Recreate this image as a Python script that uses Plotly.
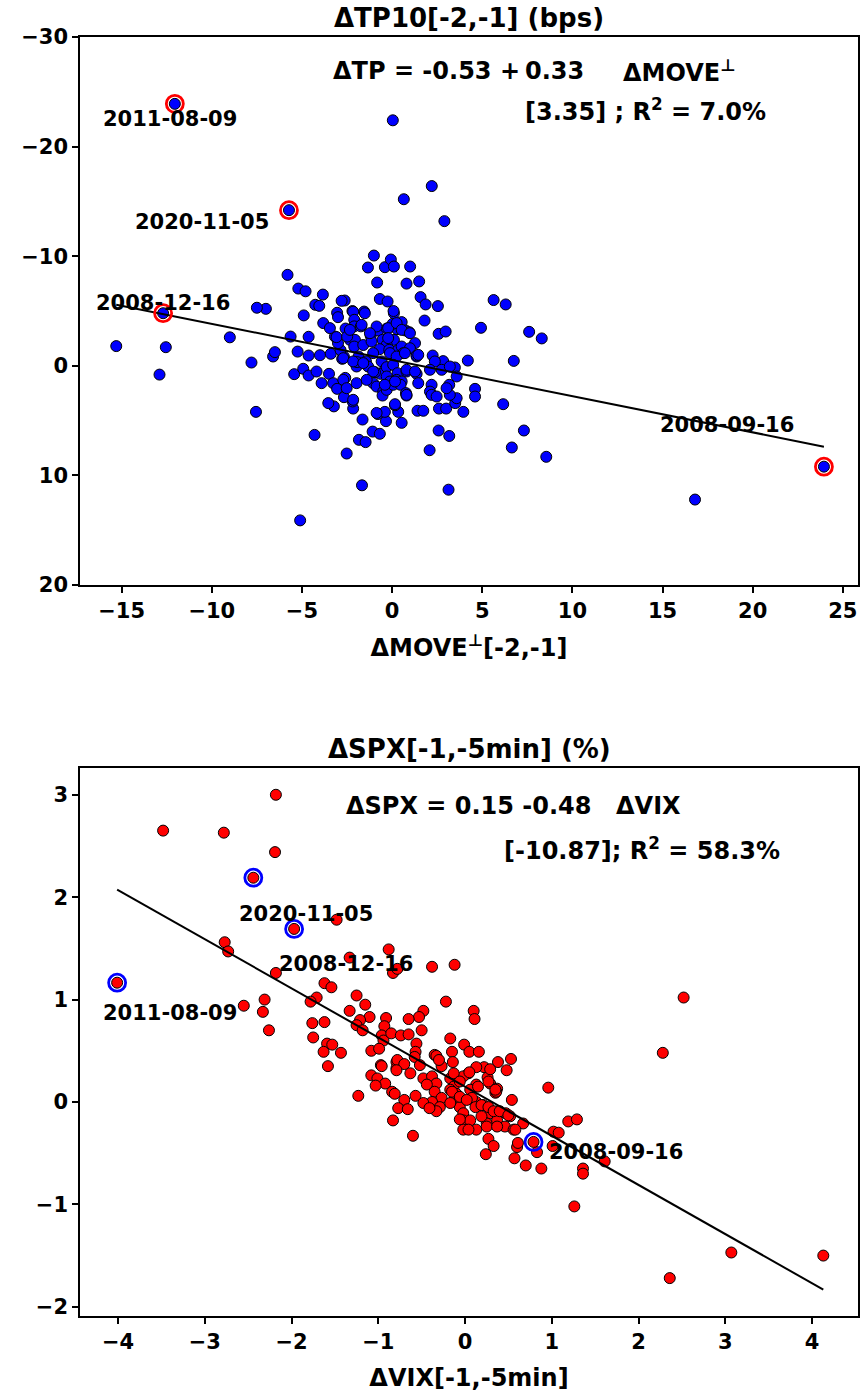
import plotly.graph_objects as go

# ---------------- data: top panel (ΔMOVE⊥ vs ΔTP10) ----------------
top_x = [0.04, 2.2, 0.65, 2.9, -15.3, -12.55, -12.9, -9.0, -7.8, -7.55, -7.0, -7.5, -5.8, -6.6, -6.5,
         -4.3, -5.1, -2.52, -1.67, 3.13, 2.08, 2.58, 3.17, 6.64, 7.31, 6.16, 3.95, -1.84, -1.47, -1.08,
         -0.68, -1.64, 0.53, -0.34, -0.79, -0.4, 0.34, 0.16, 1.41, 1.73, 2.6, 3.0, 3.5, -3.23, -3.54,
         -2.16, -2.19, 4.6, 4.6, 16.8, 5.63, 6.3, 7.6, 8.3, 6.75, 8.55, 4.93, 4.2, -1.01, -1.34,
         -0.4, -0.07, 0.1, 1.0, -0.83, 0.8, 1.5, -5.2, -4.8, -3.84, -4.26, -4.04, -4.9, -2.63, -2.8,
         -2.2, -1.55, -3.05, -0.68, -0.25, 0.1, 1.58, 1.86, 2.54, 1.8, 2.58, 2.97, -5.63, -4.63, -5.24,
         -4.63, -4.0, -3.4, -5.43, -4.93, -4.63, -4.19, -3.91, -3.5, -3.27, -3.05, -2.6, -2.67, -1.97, -2.77,
         -2.67, -2.86, -3.0, -3.17, -3.08, -3.0, -2.16, -2.1, -2.1, -1.73, -2.58, -2.34, -2.06, -2.1, -1.6,
         -1.86, -1.97, -1.94, -1.19, -0.77, -0.3, 0.27, 0.03, 0.53, 0.08, 0.75, 0.95, 1.27, 0.1, -0.53,
         -0.3, -0.69, -0.16, 0.34, 0.53, 0.62, 0.99, 1.36, -0.58, -0.4, -0.64, -0.12, 0.25, -0.3, 0.06,
         0.3, 0.8, -0.3, -0.12, 0.25, 0.53, -0.95, -1.05, -0.86, -0.49, -0.53, -0.3, 0.06, 0.47, 0.77,
         1.36, 1.45, 1.36, 2.25, 2.83, 2.37, 2.75, 2.1, 2.19, 3.48, 3.58, 3.17, 3.58, 3.2, 2.1,
         2.19, 2.47, 0.8, 0.16, -0.86, -3.82, -3.45, -2.49, -2.34, -1.14, -1.45, -1.33, -1.51, -1.69, -0.86,
         -0.22, 0.25, 0.53, -1.23, -0.22, 0.99, -2.71, -2.16, -1.6, -1.05, 0.71, -1.05, 0.8, 1.27, 1.45,
         3.2, 3.02, -1.41, -0.4, 0.16, 0.8, -2.71, -2.52, -2.16]
top_y = [-22.4, -16.4, -15.2, -13.2, -1.8, -1.7, 0.8, -2.6, -0.3, 4.2, -5.2, -5.3, -8.3, -0.85, -1.25,
         6.3, 14.1, 8.0, 10.9, 11.3, 7.7, 5.9, 6.4, 7.45, 5.9, 3.5, 4.2, 6.75, 6.96, 6.0,
         6.2, 4.9, 5.2, 5.05, 4.4, 4.2, 4.2, 3.6, 4.1, 4.1, 3.9, 3.9, 3.4, 3.7, 3.4,
         3.9, 3.25, 2.1, 2.8, 12.2, -6.0, -5.6, -3.1, -2.5, -0.45, 8.3, -3.47, -0.48, -10.06, -8.97,
         -9.0, -9.7, -9.06, -9.06, -7.6, -7.5, -7.7, -7.05, -6.8, -6.5, -5.57, -5.47, -4.6, -5.96, -5.93,
         -5.0, -4.95, -4.84, -6.1, -5.87, -4.8, -6.27, -5.6, -5.45, -4.13, -2.92, -3.13, -2.67, -2.65, -1.3,
         -0.94, -0.97, -1.1, 0.76, 0.27, 0.88, 0.52, 1.58, 0.73, 1.58, 2.1, 1.1, 2.86, 1.58, -0.64,
         -0.82, -1.43, -2.07, -2.67, -2.62, -4.44, -4.93, -4.2, -3.6, -3.6, -3.4, -2.37, -2.37, -1.76, -1.9,
         -0.85, 0.06, -0.34, -2.74, -3.22, -3.4, -3.35, -3.83, -3.99, -5.0, -3.22, -3.07, -2.07, -2.37, -2.37,
         -1.92, -1.52, -1.46, -1.46, -1.76, -1.16, -1.61, -0.85, -0.4, 0.36, 0.73, -1.16, -0.85, 0.12, -0.09,
         0.67, 0.52, 0.97, 1.43, 1.28, 1.43, 0.58, 1.58, 1.89, 2.35, 2.71, 2.19, 1.73, 1.73, 2.49,
         0.73, 1.58, -0.94, -0.94, -0.43, -0.4, 0.36, 0.36, 1.73, 0.15, 0.97, 1.73, 2.95, 2.65, 2.35,
         2.65, 2.8, 2.71, 3.5, 4.3, -3.9, -3.44, -2.67, -3.28, -2.22, -0.4, 0.06, -4.8, -3.74, -3.59,
         -3.44, -3.9, -3.28, -2.98, -2.53, -2.98, -0.7, -0.4, -0.25, -1.16, -1.16, 0.52, 0.36, 0.52, -1.0,
         0.06, 2.04, 1.28, 1.73, 1.43, 2.65, 1.28, 2.04, 3.1]

top_hl_dates = ["2011-08-09", "2020-11-05", "2008-12-16", "2008-09-16"]
top_hl_x = [-12.05, -5.72, -12.7, 23.95]
top_hl_y = [-23.9, -14.2, -4.8, 9.2]
top_intercept, top_slope, top_tstat, top_r2 = -0.53, 0.33, 3.35, 7.0

# ---------------- data: bottom panel (ΔVIX vs ΔSPX) ----------------
bot_x = [-2.18, -3.48, -2.78, -2.19, -1.48, -2.77, -2.73, -2.18, -1.33, -0.88, -0.83, -0.78, -1.62, -1.54,
         -1.71, -1.78, -1.25, -1.15, -1.33, -1.1, -1.21, -1.25, -1.18, -0.91, -0.93, -0.96, -0.94, -0.85,
         -2.31, -2.55, -2.33, -2.26, -1.76, -1.62, -1.75, -1.59, -1.53, -1.63, -1.43, -1.58, -1.08, -0.99,
         -0.97, -0.79, -0.79, -0.38, -0.12, -0.22, 0.1, 0.11, -0.48, -0.53, -0.65, -0.5, -0.74, -0.65,
         -0.17, -0.56, -0.01, 0.05, 0.16, -0.57, -0.58, -0.35, -0.33, -0.15, -0.14, -0.27, -0.3, 0.38,
         0.53, 0.48, 0.22, 0.13, -0.78, -0.7, -0.79, -0.96, -0.63, -0.52, -1.08, -1.01, -0.92, -1.03,
         -0.84, -0.81, -1.23, -0.48, -0.38, -0.33, -0.44, 0.04, -0.02, 0.13, 0.06, -0.17, -0.13, -0.1,
         0.26, 0.29, 0.37, 0.35, -0.35, -0.27, -0.38, -0.29, -0.33, -0.57, -0.48, -0.41, -0.7, -0.77,
         -0.66, -0.83, -0.6, -0.17, -0.12, -0.06, -0.17, -0.02, -0.02, 0.06, -0.02, 0.13, 0.13, 0.08,
         0.21, 0.29, 0.38, 0.25, 0.37, 0.46, 0.56, 0.47, 0.52, 0.54, 0.36, 0.67, 0.96, 0.27,
         0.33, 0.24, 0.6, 0.57, 0.7, 0.88, 0.83, 1.02, 1.08, 1.19, 1.29, 1.36, 2.52, 2.28,
         1.01, 1.61, 1.36, 1.26, 3.07, 4.13, 2.36, 0.29, -0.13, 0.05, -0.06, 0.15, 0.27, 0.35,
         -0.15, -0.06, 0.02, 0.12, 0.19, 0.27, 0.33, 0.4, 0.5, 0.04, 0.25, 0.37, 0.19, -0.06,
         0.58, 0.61]
bot_y = [3.0, 2.65, 2.63, 2.44, 1.78, 1.56, 1.47, 1.26, 1.41, 1.49, 1.26, 1.3, 1.16, 1.12,
         1.02, 0.98, 1.04, 0.95, 0.89, 0.83, 0.8, 0.75, 0.7, 0.82, 0.74, 0.65, 0.6, 0.67,
         1.0, 0.94, 0.88, 0.7, 0.77, 0.78, 0.63, 0.57, 0.56, 0.49, 0.48, 0.35, 0.5, 0.52,
         0.36, 0.39, 0.33, 1.32, 1.34, 0.98, 0.89, 0.81, 0.89, 0.83, 0.81, 0.7, 0.65, 0.66,
         0.62, 0.57, 0.56, 0.49, 0.49, 0.49, 0.44, 0.46, 0.45, 0.49, 0.39, 0.35, 0.41, 0.39,
         0.42, 0.31, 0.34, 0.34, 0.41, 0.37, 0.31, 0.35, 0.28, 0.36, 0.26, 0.23, 0.18, 0.16,
         0.1, 0.08, 0.06, 0.23, 0.25, 0.18, 0.17, 0.28, 0.25, 0.17, 0.12, 0.23, 0.15, 0.08,
         0.24, 0.18, 0.13, 0.09, 0.1, 0.04, 0.0, -0.05, -0.09, 0.06, -0.01, -0.06, 0.02, -0.06,
         -0.07, -0.18, -0.33, 0.12, 0.02, -0.05, -0.01, -0.11, -0.18, -0.18, -0.27, -0.27, 0.0, 0.04,
         -0.03, -0.11, -0.09, -0.21, -0.18, -0.24, -0.27, -0.11, -0.14, 0.02, 0.1, -0.21, 0.14, -0.36,
         -0.43, -0.51, -0.44, -0.55, -0.62, -0.65, -0.49, -0.29, -0.3, -0.19, -0.17, -0.65, 1.02, 0.48,
         -0.43, -0.58, -0.7, -1.02, -1.47, -1.5, -1.72, 0.32, 0.28, 0.29, 0.2, 0.15, 0.2, 0.12,
         0.1, 0.05, 0.02, -0.05, -0.03, -0.05, -0.09, -0.09, -0.13, -0.27, -0.24, -0.24, -0.14, -0.17,
         -0.27, -0.4]

bot_hl_dates = ["2011-08-09", "2020-11-05", "2008-12-16", "2008-09-16"]
bot_hl_x = [-4.01, -2.44, -1.97, 0.79]
bot_hl_y = [1.165, 2.19, 1.69, -0.39]
bot_intercept, bot_slope, bot_tstat, bot_r2 = 0.15, -0.48, -10.87, 58.3

# tick values / labels
top_xticks = [-15, -10, -5, 0, 5, 10, 15, 20, 25]
top_yticks = [-30, -20, -10, 0, 10, 20]
bot_xticks = [-4, -3, -2, -1, 0, 1, 2, 3, 4]
bot_yticks = [-2, -1, 0, 1, 2, 3]


def lab(v):
    return ("\u2212" + str(abs(v))) if v < 0 else str(v)


# label offsets (data units) relative to the highlighted points
top_lbl_dx = [-0.27, -4.8, 0.0, -5.35]
top_lbl_dy = [1.4, 1.1, -0.95, -3.8]
bot_lbl_dx = [0.61, 0.61, 0.6, 0.95]
bot_lbl_dy = [-0.3, -0.35, -0.34, -0.1]

FONT = "DejaVu Sans"

fig = go.Figure()

# ---------- top panel ----------
all_tx = top_x + top_hl_x
all_ty = top_y + top_hl_y
fig.add_trace(go.Scatter(x=all_tx, y=all_ty, mode="markers", xaxis="x", yaxis="y",
                         marker=dict(size=11, color="#0000ff", line=dict(color="black", width=1)),
                         showlegend=False, hoverinfo="skip"))
tx0, tx1 = min(all_tx), max(all_tx)
fig.add_trace(go.Scatter(x=[tx0, tx1], y=[top_intercept + top_slope * tx0, top_intercept + top_slope * tx1],
                         mode="lines", line=dict(color="black", width=2), xaxis="x", yaxis="y",
                         showlegend=False, hoverinfo="skip"))
fig.add_trace(go.Scatter(x=top_hl_x, y=top_hl_y, mode="markers", xaxis="x", yaxis="y",
                         marker=dict(size=17, symbol="circle-open", color="#ff0000", line=dict(width=2.8)),
                         showlegend=False, hoverinfo="skip"))

# ---------- bottom panel ----------
all_bx = bot_x + bot_hl_x
all_by = bot_y + bot_hl_y
fig.add_trace(go.Scatter(x=all_bx, y=all_by, mode="markers", xaxis="x2", yaxis="y2",
                         marker=dict(size=11, color="#ff0000", line=dict(color="black", width=1)),
                         showlegend=False, hoverinfo="skip"))
bx0, bx1 = min(all_bx), max(all_bx)
fig.add_trace(go.Scatter(x=[bx0, bx1], y=[bot_intercept + bot_slope * bx0, bot_intercept + bot_slope * bx1],
                         mode="lines", line=dict(color="black", width=2), xaxis="x2", yaxis="y2",
                         showlegend=False, hoverinfo="skip"))
fig.add_trace(go.Scatter(x=bot_hl_x, y=bot_hl_y, mode="markers", xaxis="x2", yaxis="y2",
                         marker=dict(size=17, symbol="circle-open", color="#0000ff", line=dict(width=2.8)),
                         showlegend=False, hoverinfo="skip"))

tickfont = dict(family=FONT, size=21, color="black", weight=700)
axis_common = dict(showgrid=False, zeroline=False, showline=True, linecolor="black", linewidth=1.5,
                   mirror=True, ticks="outside", ticklen=6, tickwidth=1.5, tickcolor="black",
                   tickfont=tickfont, automargin=False)

annots = []
titlef = dict(family=FONT, size=26, color="black", weight=700)
annots.append(dict(text="ΔTP10[-2,-1] (bps)", xref="paper", yref="y domain", x=0.5, y=1.0,
                   xanchor="center", yanchor="bottom", yshift=2, showarrow=False, font=titlef))
annots.append(dict(text="ΔSPX[-1,-5min] (%)", xref="paper", yref="y2 domain", x=0.5, y=1.0,
                   xanchor="center", yanchor="bottom", yshift=2, showarrow=False, font=titlef))

eqfont = dict(family=FONT, size=24, color="black", weight=700)
eq_pieces = [
    (f"ΔTP = {top_intercept:.2f} +", "x domain", "y domain", 0.3239, 0.938),
    (f"{top_slope:.2f}", "x domain", "y domain", 0.5707, 0.938),
    ("ΔMOVE<sup>⊥</sup>", "x domain", "y domain", 0.6967, 0.938),
    (f"[{top_tstat:.2f}] ; R<sup>2</sup> = {top_r2:.1f}%", "x domain", "y domain", 0.5707, 0.867),
    (f"ΔSPX = {bot_intercept:.2f} {bot_slope:.2f}", "x2 domain", "y2 domain", 0.3406, 0.9307),
    ("ΔVIX", "x2 domain", "y2 domain", 0.6877, 0.9307),
    (f"[{bot_tstat:.2f}]; R<sup>2</sup> = {bot_r2:.1f}%", "x2 domain", "y2 domain", 0.5437, 0.852),
]
for txt, xr, yr, xx, yy in eq_pieces:
    annots.append(dict(text=txt, xref=xr, yref=yr, x=xx, y=yy, xanchor="left", yanchor="middle",
                       showarrow=False, font=eqfont, borderpad=0))

lblfont = dict(family=FONT, size=21, color="black", weight=700)
for d, x, y, dx, dy in zip(top_hl_dates, top_hl_x, top_hl_y, top_lbl_dx, top_lbl_dy):
    annots.append(dict(text=d, x=x + dx, y=y + dy, xref="x", yref="y", showarrow=False,
                       xanchor="center", yanchor="middle", font=lblfont))
for d, x, y, dx, dy in zip(bot_hl_dates, bot_hl_x, bot_hl_y, bot_lbl_dx, bot_lbl_dy):
    annots.append(dict(text=d, x=x + dx, y=y + dy, xref="x2", yref="y2", showarrow=False,
                       xanchor="center", yanchor="middle", font=lblfont))

axtitlefont = dict(family=FONT, size=24, color="black", weight=700)
fig.update_layout(
    width=860, height=1392,
    margin=dict(l=80, r=2, t=37, b=76),
    paper_bgcolor="white", plot_bgcolor="white",
    xaxis=dict(domain=[0, 1], anchor="y", range=[-17.31, 25.84],
               tickvals=top_xticks, ticktext=[lab(v) for v in top_xticks],
               title=dict(text="ΔMOVE<sup>⊥</sup>[-2,-1]", font=axtitlefont, standoff=17), **axis_common),
    yaxis=dict(domain=[0.5715, 1], anchor="x", range=[20, -30],
               tickvals=top_yticks, ticktext=[lab(v) for v in top_yticks], **axis_common),
    xaxis2=dict(domain=[0, 1], anchor="y2", range=[-4.438, 4.530],
                tickvals=bot_xticks, ticktext=[lab(v) for v in bot_xticks],
                title=dict(text="ΔVIX[-1,-5min]", font=axtitlefont, standoff=19), **axis_common),
    yaxis2=dict(domain=[0, 0.4285], anchor="x2", range=[-2.09, 3.262],
                tickvals=bot_yticks, ticktext=[lab(v) for v in bot_yticks], **axis_common),
    annotations=annots,
)

# remove the page's default body margin so the 860x1392 figure fills the window exactly
fig.write_html("out.html", config={"displayModeBar": False},
               post_script="document.body.style.margin='0';document.body.style.overflow='hidden';")
